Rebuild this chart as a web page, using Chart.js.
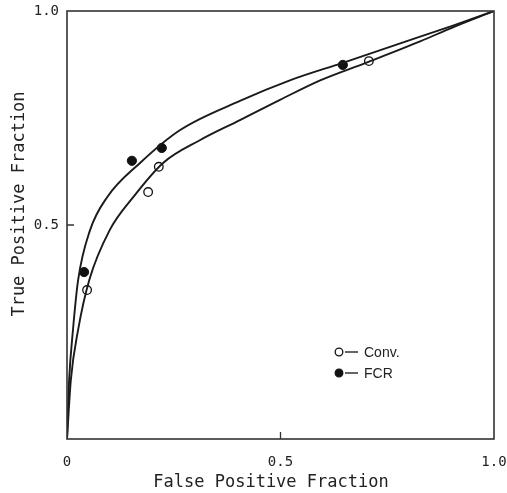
<!DOCTYPE html>
<html>
<head>
<meta charset="utf-8">
<script src="https://cdn.jsdelivr.net/npm/chart.js@4.4.0/dist/chart.umd.min.js"></script>
<style>
  html, body { margin: 0; padding: 0; background: #fff; }
  #wrap { width: 507px; height: 493px; }
</style>
</head>
<body>
<div id="wrap"><canvas id="roc"></canvas></div>
<script>
// curve points (false positive fraction, true positive fraction)
const convCurveX = [0, 0.009, 0.026, 0.052, 0.1, 0.155, 0.225, 0.311, 0.405, 0.5, 0.593, 0.7, 0.827, 0.904, 1];
const convCurveY = [0, 0.138, 0.255, 0.371, 0.488, 0.565, 0.645, 0.698, 0.745, 0.793, 0.838, 0.879, 0.929, 0.962, 1];
const fcrCurveX = [0, 0.005, 0.014, 0.026, 0.054, 0.094, 0.171, 0.265, 0.405, 0.522, 0.646, 0.827, 0.904, 1];
const fcrCurveY = [0, 0.138, 0.255, 0.371, 0.488, 0.565, 0.645, 0.722, 0.79, 0.838, 0.879, 0.94, 0.966, 1];

// observed operating points
const convPtsX = [0.047, 0.19, 0.215, 0.707];
const convPtsY = [0.348, 0.577, 0.636, 0.883];
const fcrPtsX = [0.04, 0.152, 0.222, 0.646];
const fcrPtsY = [0.39, 0.65, 0.68, 0.874];

const xTicks = [0, 0.5, 1];
const xTickLabels = ['0', '0.5', '1.0'];
const yTicks = [0.5, 1];
const yTickLabels = ['0.5', '1.0'];

const legendNames = ['Conv.', 'FCR'];
const xTitle = 'False Positive Fraction';
const yTitle = 'True Positive Fraction';

const monoFont = '"DejaVu Sans Mono", "Liberation Mono", monospace';

function toXY(xs, ys) {
    let out = [];
    for (let i in xs) out.push({ x: xs[i], y: ys[i] });
    return out;
}

// frame, inward ticks, axis titles and the little key inside the plot
const framePlugin = {
    id: 'frame',
    afterDraw(chart) {
        const ctx = chart.ctx;
        const a = chart.chartArea;
        const xs = chart.scales.x, ys = chart.scales.y;
        ctx.save();
        ctx.strokeStyle = '#333';
        ctx.lineWidth = 1.6;
        ctx.strokeRect(a.left, a.top, a.right - a.left, a.bottom - a.top);
        ctx.lineWidth = 1.3;
        ctx.beginPath();
        const px = xs.getPixelForValue(0.5);
        ctx.moveTo(px, a.bottom); ctx.lineTo(px, a.bottom - 7);
        const py = ys.getPixelForValue(0.5);
        ctx.moveTo(a.left, py); ctx.lineTo(a.left + 7, py);
        ctx.stroke();

        // axis titles, placed where the original has them (a bit off centre)
        ctx.font = '17px ' + monoFont;
        ctx.fillStyle = '#222';
        ctx.textAlign = 'center';
        ctx.textBaseline = 'middle';
        ctx.fillText(xTitle, 271, 483);
        ctx.save();
        ctx.translate(20, 204);
        ctx.rotate(-Math.PI / 2);
        ctx.fillText(yTitle, 0, 0);
        ctx.restore();

        // key
        const kx = 339, ky = [352, 373];
        ctx.font = '14px "Liberation Sans", Arial, sans-serif';
        ctx.textAlign = 'left';
        for (let i = 0; i < 2; i++) {
            ctx.beginPath();
            ctx.arc(kx, ky[i], 3.8, 0, Math.PI * 2);
            ctx.fillStyle = i == 0 ? '#fff' : '#111';
            ctx.fill();
            ctx.strokeStyle = '#111';
            ctx.lineWidth = 1.3;
            ctx.stroke();
            ctx.beginPath();
            ctx.moveTo(kx + 6, ky[i]);
            ctx.lineTo(kx + 19, ky[i]);
            ctx.stroke();
            ctx.fillStyle = '#222';
            ctx.fillText(legendNames[i], kx + 25, ky[i] + 1);
        }
        ctx.restore();
    }
};

new Chart(document.getElementById('roc'), {
    type: 'scatter',
    data: {
        datasets: [
            {
                type: 'line',
                label: 'Conv. curve',
                data: toXY(convCurveX, convCurveY),
                borderColor: '#1a1a1a',
                borderWidth: 1.9,
                pointRadius: 0,
                fill: false,
                cubicInterpolationMode: 'monotone'
            },
            {
                type: 'line',
                label: 'FCR curve',
                data: toXY(fcrCurveX, fcrCurveY),
                borderColor: '#1a1a1a',
                borderWidth: 1.9,
                pointRadius: 0,
                fill: false,
                cubicInterpolationMode: 'monotone'
            },
            {
                label: 'Conv.',
                data: toXY(convPtsX, convPtsY),
                pointStyle: 'circle',
                pointRadius: 4.3,
                backgroundColor: '#fff',
                borderColor: '#111',
                borderWidth: 1.3
            },
            {
                label: 'FCR',
                data: toXY(fcrPtsX, fcrPtsY),
                pointStyle: 'circle',
                pointRadius: 4.6,
                backgroundColor: '#111',
                borderColor: '#111',
                borderWidth: 1
            }
        ]
    },
    options: {
        responsive: true,
        maintainAspectRatio: false,
        animation: false,
        layout: { padding: { top: 11, right: 13, left: 0, bottom: 0 } },
        plugins: {
            legend: { display: false },
            tooltip: { enabled: false }
        },
        scales: {
            x: {
                type: 'linear',
                min: 0,
                max: 1,
                afterBuildTicks: (s) => { s.ticks = xTicks.map(v => ({ value: v })); },
                afterFit: (s) => { s.height = 54; s.paddingLeft = 0; s.paddingRight = 0; },
                grid: { display: false, drawTicks: false },
                border: { display: false },
                ticks: {
                    color: '#222',
                    padding: 15,
                    maxRotation: 0,
                    font: { family: monoFont, size: 14 },
                    callback: (v) => xTickLabels[xTicks.indexOf(v)]
                },
                title: { display: false }
            },
            y: {
                type: 'linear',
                min: 0,
                max: 1,
                afterBuildTicks: (s) => { s.ticks = yTicks.map(v => ({ value: v })); },
                afterFit: (s) => { s.width = 67; s.paddingTop = 0; s.paddingBottom = 0; },
                grid: { display: false, drawTicks: false },
                border: { display: false },
                ticks: {
                    color: '#222',
                    padding: 8,
                    font: { family: monoFont, size: 14 },
                    callback: (v) => yTickLabels[yTicks.indexOf(v)]
                },
                title: { display: false }
            }
        }
    },
    plugins: [framePlugin]
});
</script>
</body>
</html>
